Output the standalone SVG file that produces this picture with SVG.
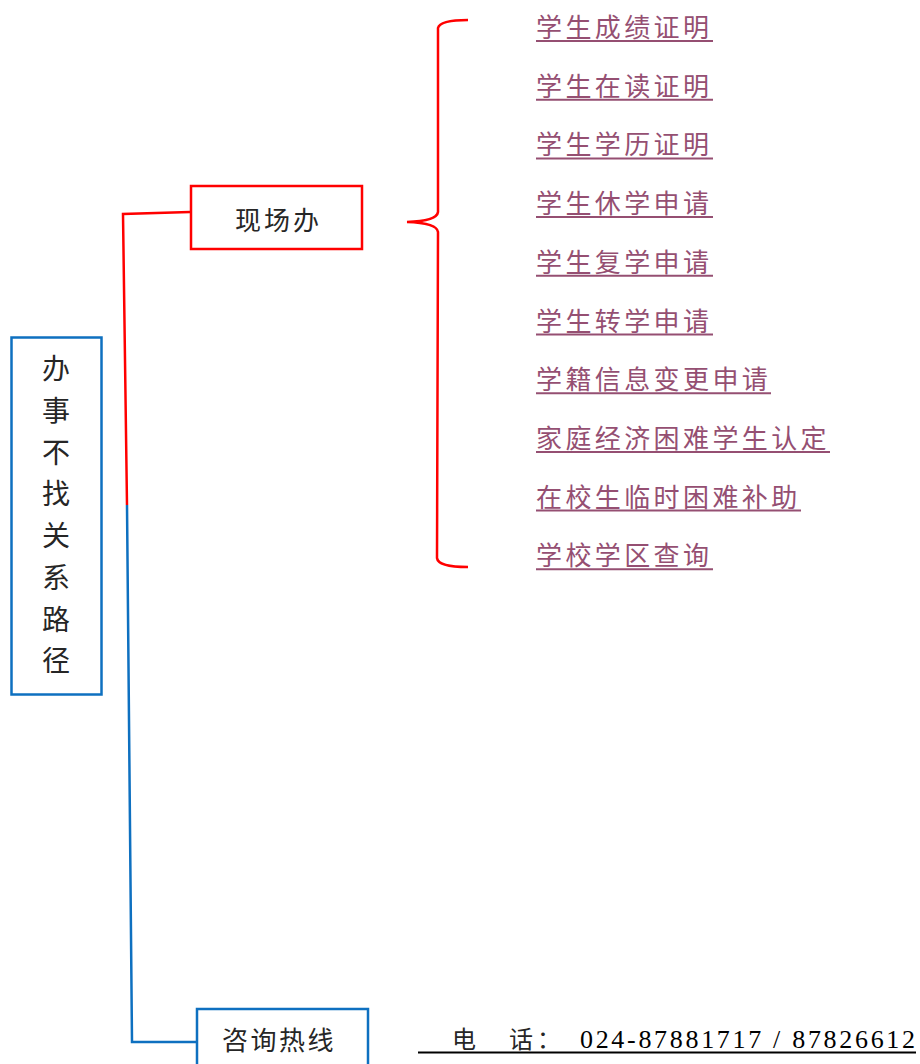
<svg xmlns="http://www.w3.org/2000/svg" width="920" height="1064" viewBox="0 0 920 1064">
<style>
.cjk{font-family:"Noto Sans CJK SC","Noto Sans",sans-serif;fill:#262626;}
.item{font-family:"Noto Sans CJK SC","Noto Sans",sans-serif;font-size:26px;fill:#954F72;letter-spacing:3.4px;}
.ul{stroke:#954F72;stroke-width:2;}
.blue{fill:#fff;stroke:#0E70C0;stroke-width:2.5;}
.red{fill:#fff;stroke:#FF0000;stroke-width:2.5;}
</style>
<rect width="920" height="1064" fill="#fff"/>
<g id="connectors" fill="none" stroke-width="2.5">
<polyline points="190,212 123,214 127,505" stroke="#FF0000"/>
<polyline points="127,505 132,1042 197,1042" stroke="#0E70C0"/>
<path d="M468,20 Q440,20 438,28 L438,212 Q437,221 407,222 Q437,223 438,232 L437,558 Q438,567 468,567" stroke="#FF0000"/>
</g>
<g id="root">
<rect class="blue" x="11.5" y="337.5" width="90" height="357"/>
<g class="cjk" font-size="28" text-anchor="middle">
<text x="56" y="379">办</text>
<text x="56" y="421">事</text>
<text x="56" y="463">不</text>
<text x="56" y="504">找</text>
<text x="56" y="546">关</text>
<text x="56" y="588">系</text>
<text x="56" y="630">路</text>
<text x="56" y="671">径</text>
</g>
</g>
<g id="onsite">
<rect class="red" x="191" y="186" width="171" height="63"/>
<text class="cjk" x="235" y="229.5" font-size="26" letter-spacing="3">现场办</text>
</g>
<g id="hotline">
<rect class="blue" x="197" y="1009" width="171" height="64"/>
<text class="cjk" x="222" y="1050" font-size="26" letter-spacing="2.5">咨询热线</text>
</g>
<g id="phone">
<text class="cjk" x="452" y="1048" font-size="24" fill="#000">电</text>
<text class="cjk" x="509" y="1048" font-size="24" fill="#000">话</text>
<text class="cjk" x="537" y="1048" font-size="24" fill="#000">：</text>
<text x="580" y="1048" font-family="Liberation Serif, serif" font-size="26" fill="#000" textLength="335" lengthAdjust="spacing">024-87881717 / 87826612</text>
<line x1="418" y1="1052.5" x2="916" y2="1052.5" stroke="#000" stroke-width="2"/>
</g>
<g id="items">
<g id="item1"><text class="item" x="536" y="37">学生成绩证明</text><line class="ul" x1="536" y1="41" x2="713" y2="41"/></g>
<g id="item2"><text class="item" x="536" y="95.7">学生在读证明</text><line class="ul" x1="536" y1="99.7" x2="713" y2="99.7"/></g>
<g id="item3"><text class="item" x="536" y="154.4">学生学历证明</text><line class="ul" x1="536" y1="158.4" x2="713" y2="158.4"/></g>
<g id="item4"><text class="item" x="536" y="213.1">学生休学申请</text><line class="ul" x1="536" y1="217.1" x2="713" y2="217.1"/></g>
<g id="item5"><text class="item" x="536" y="271.8">学生复学申请</text><line class="ul" x1="536" y1="275.8" x2="713" y2="275.8"/></g>
<g id="item6"><text class="item" x="536" y="330.5">学生转学申请</text><line class="ul" x1="536" y1="334.5" x2="713" y2="334.5"/></g>
<g id="item7"><text class="item" x="536" y="389.2">学籍信息变更申请</text><line class="ul" x1="536" y1="393.2" x2="771" y2="393.2"/></g>
<g id="item8"><text class="item" x="536" y="447.9">家庭经济困难学生认定</text><line class="ul" x1="536" y1="451.9" x2="830" y2="451.9"/></g>
<g id="item9"><text class="item" x="536" y="506.6">在校生临时困难补助</text><line class="ul" x1="536" y1="510.6" x2="801" y2="510.6"/></g>
<g id="item10"><text class="item" x="536" y="565.3">学校学区查询</text><line class="ul" x1="536" y1="569.3" x2="713" y2="569.3"/></g>
</g>
</svg>
